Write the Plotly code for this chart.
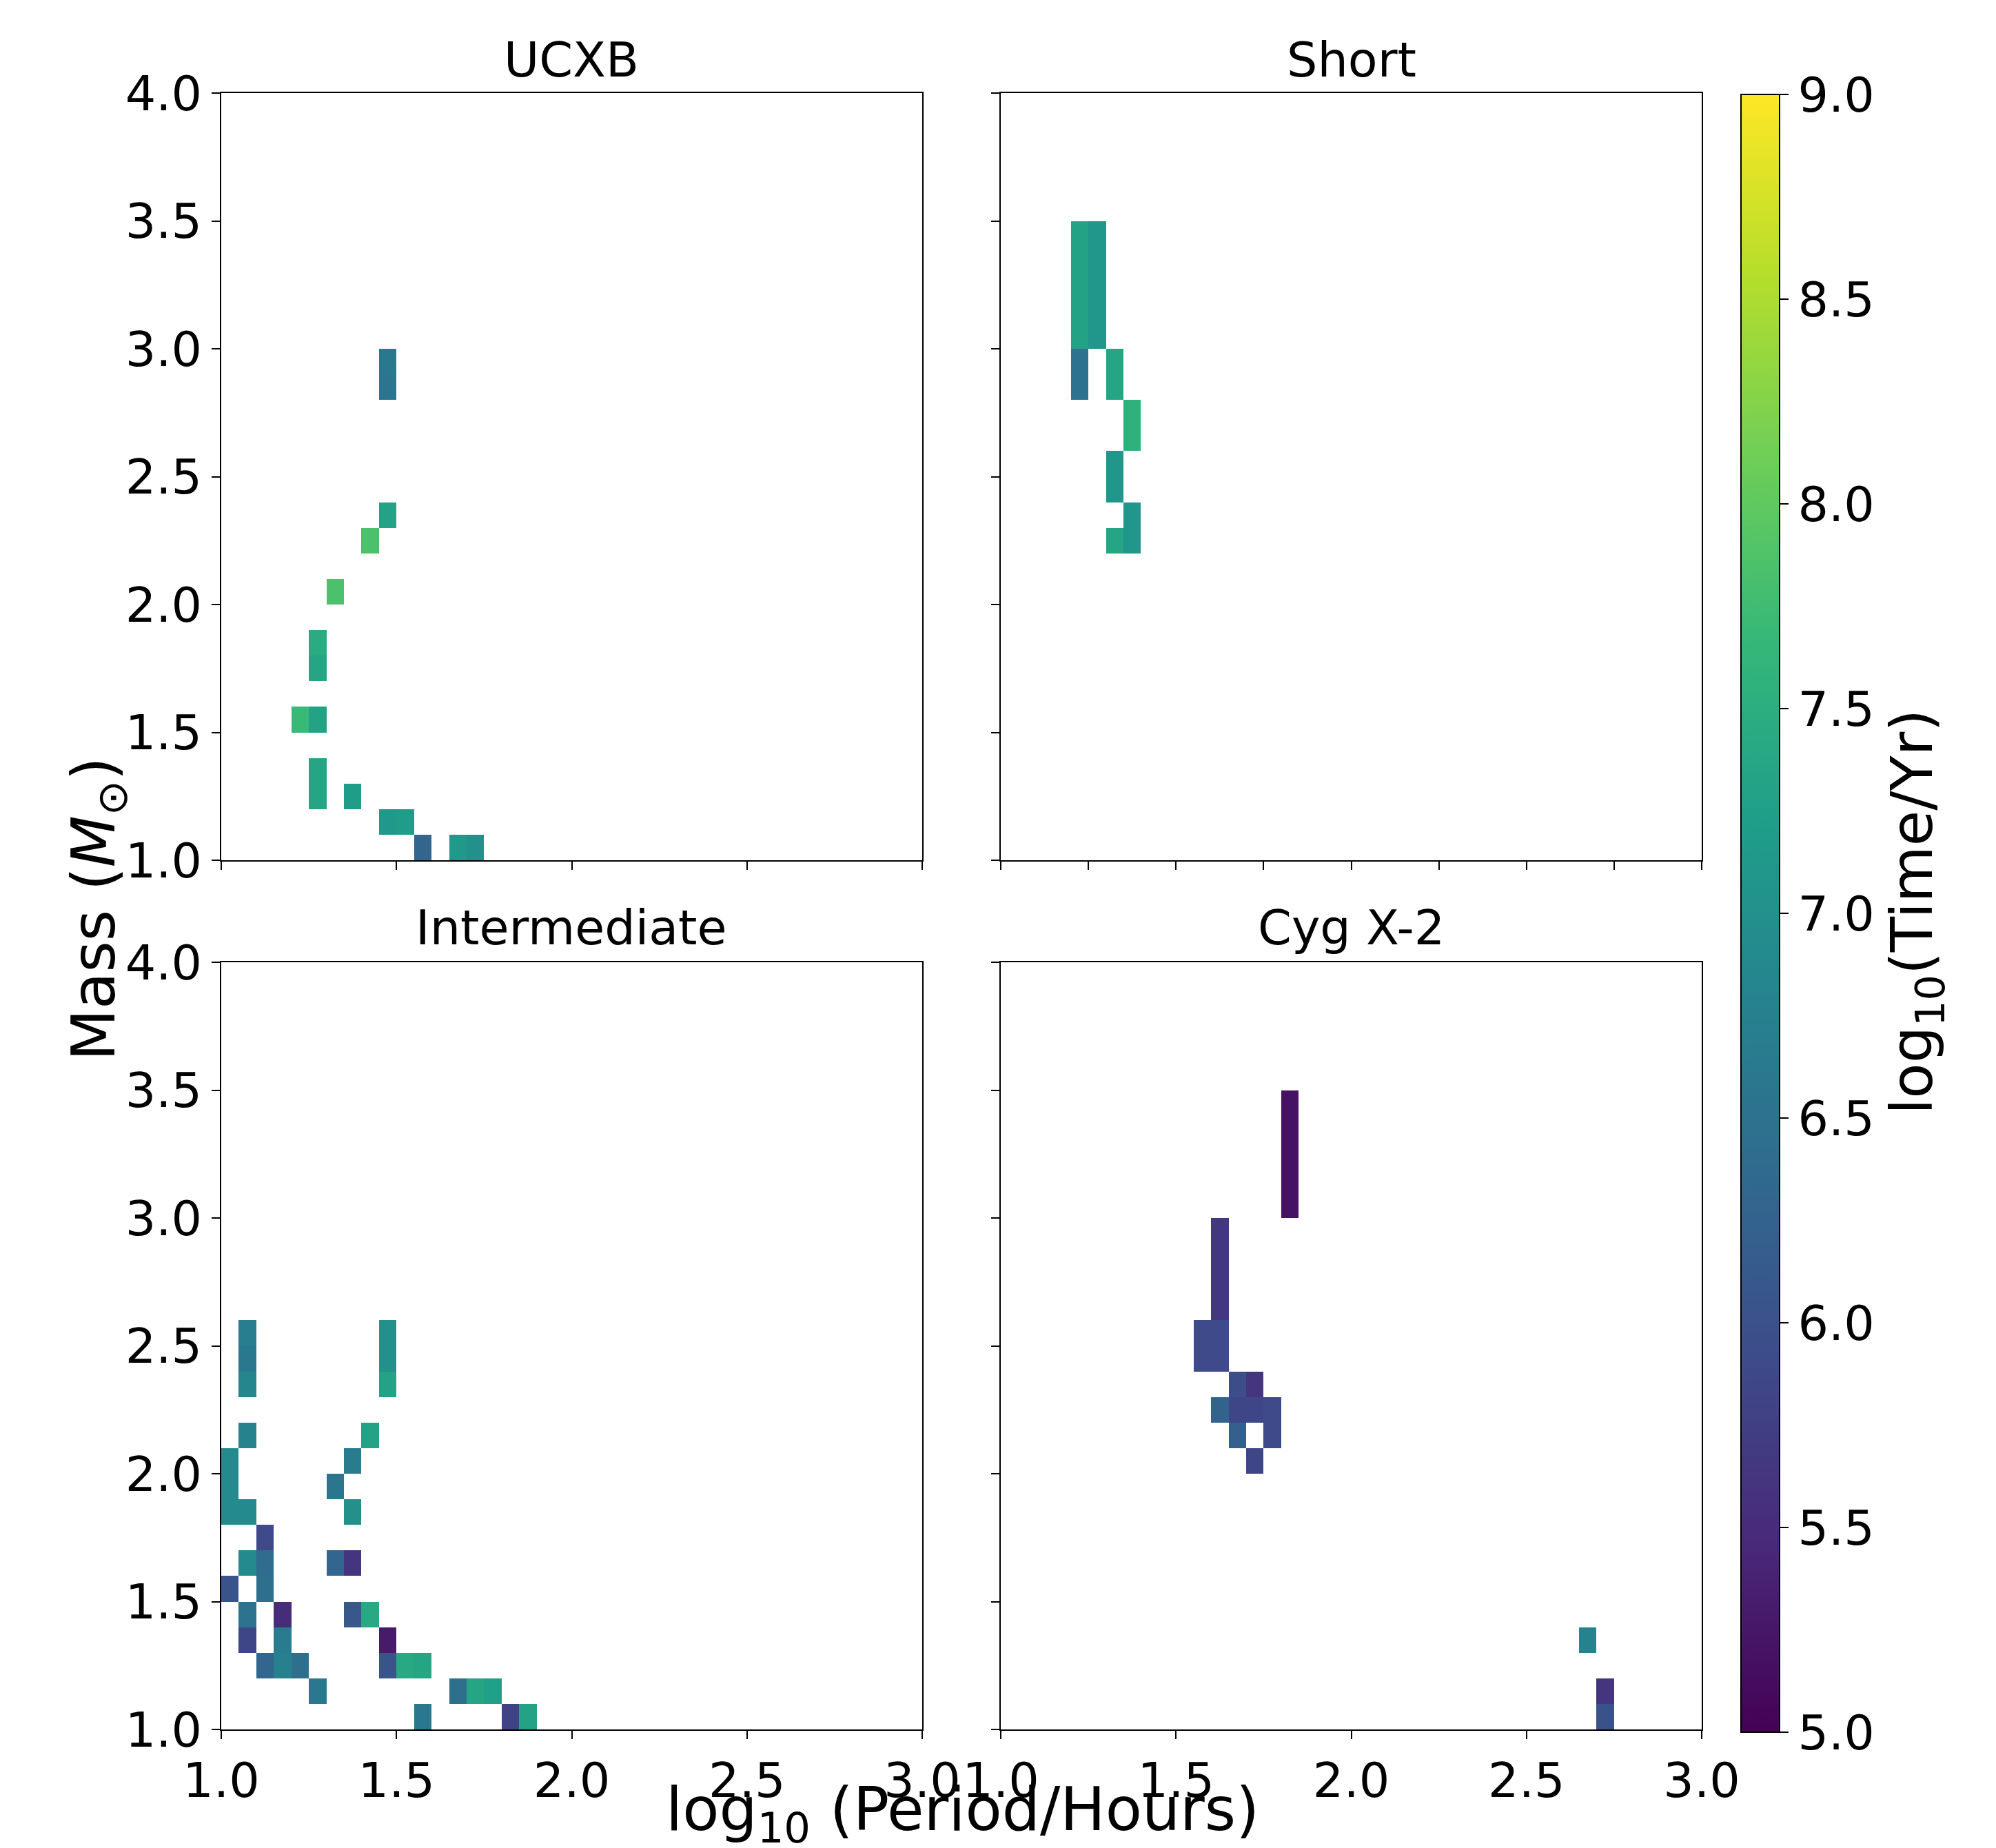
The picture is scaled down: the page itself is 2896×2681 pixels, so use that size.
import numpy as np
import plotly.graph_objects as go

# ---------------- data (bin centres: log10 period [h], mass [Msun], log10 time [yr]) -------------
panel_titles = ["UCXB", "Short", "Intermediate", "Cyg X-2"]

ucxb_period = [1.475, 1.475, 1.475, 1.425, 1.325, 1.275, 1.275, 1.225, 1.275, 1.275, 1.275, 1.375,
               1.475, 1.525, 1.575, 1.675, 1.725]
ucxb_mass = [2.95, 2.85, 2.35, 2.25, 2.05, 1.85, 1.75, 1.55, 1.55, 1.35, 1.25, 1.25,
             1.15, 1.15, 1.05, 1.05, 1.05]
ucxb_logt = [6.6, 6.55, 7.3, 7.85, 7.85, 7.45, 7.35, 7.7, 7.3, 7.35, 7.35, 7.2,
             7.15, 7.2, 6.3, 7.15, 7.0]

short_period = [1.225, 1.225, 1.225, 1.225, 1.225, 1.275, 1.275, 1.275, 1.275, 1.275,
                1.225, 1.225, 1.325, 1.325, 1.375, 1.375, 1.325, 1.325, 1.375, 1.375, 1.325]
short_mass = [3.45, 3.35, 3.25, 3.15, 3.05, 3.45, 3.35, 3.25, 3.15, 3.05,
              2.95, 2.85, 2.95, 2.85, 2.75, 2.65, 2.55, 2.45, 2.35, 2.25, 2.25]
short_logt = [7.3, 7.3, 7.3, 7.3, 7.3, 7.1, 7.1, 7.1, 7.1, 7.1,
              6.5, 6.5, 7.35, 7.35, 7.55, 7.55, 7.1, 7.1, 7.1, 7.1, 7.35]

inter_period = [1.075, 1.075, 1.075, 1.475, 1.475, 1.475, 1.075, 1.425, 1.025, 1.025, 1.025, 1.075,
                1.375, 1.325, 1.375, 1.125, 1.075, 1.125, 1.125, 1.325, 1.375, 1.025, 1.075,
                1.175, 1.375, 1.425, 1.075, 1.175, 1.475, 1.125, 1.175, 1.225, 1.475, 1.525,
                1.575, 1.275, 1.675, 1.725, 1.775, 1.575, 1.825, 1.875]
inter_mass = [2.55, 2.45, 2.35, 2.55, 2.45, 2.35, 2.15, 2.15, 2.05, 1.95, 1.85, 1.85,
              2.05, 1.95, 1.85, 1.75, 1.65, 1.65, 1.55, 1.65, 1.65, 1.55, 1.45,
              1.45, 1.45, 1.45, 1.35, 1.35, 1.35, 1.25, 1.25, 1.25, 1.25, 1.25,
              1.25, 1.15, 1.15, 1.15, 1.15, 1.05, 1.05, 1.05]
inter_logt = [6.7, 6.6, 6.85, 7.0, 7.0, 7.3, 6.8, 7.3, 6.9, 6.9, 6.9, 6.9,
              6.65, 6.55, 7.0, 5.9, 6.9, 6.4, 6.45, 6.3, 5.6, 6.05, 6.5,
              5.5, 6.1, 7.4, 5.85, 6.65, 5.3, 6.3, 6.75, 6.45, 6.05, 7.4,
              7.35, 6.6, 6.45, 7.35, 7.25, 6.6, 5.8, 7.3]

cyg_period = [1.825, 1.825, 1.825, 1.825, 1.825, 1.625, 1.625, 1.625, 1.625,
              1.575, 1.575, 1.625, 1.625, 1.675, 1.725, 1.625, 1.675, 1.725,
              1.775, 1.775, 1.675, 1.725, 2.675, 2.725, 2.725]
cyg_mass = [3.45, 3.35, 3.25, 3.15, 3.05, 2.95, 2.85, 2.75, 2.65,
            2.55, 2.45, 2.55, 2.45, 2.35, 2.35, 2.25, 2.25, 2.25,
            2.25, 2.15, 2.15, 2.05, 1.35, 1.15, 1.05]
cyg_logt = [5.2, 5.2, 5.2, 5.2, 5.2, 5.65, 5.65, 5.65, 5.65,
            5.9, 5.9, 5.9, 5.9, 5.95, 5.6, 6.25, 5.85, 5.85,
            5.9, 5.9, 6.2, 5.85, 6.8, 5.6, 6.0]

period_edges = np.round(np.arange(1.0, 3.0001, 0.05), 3)
mass_edges = np.round(np.arange(1.0, 4.0001, 0.1), 3)

x_tick_vals = [1.0, 1.5, 2.0, 2.5, 3.0]
x_tick_vals_fine = [1.0, 1.25, 1.5, 1.75, 2.0, 2.25, 2.5, 2.75, 3.0]
y_tick_vals = [1.0, 1.5, 2.0, 2.5, 3.0, 3.5, 4.0]
cbar_tick_vals = [5.0, 5.5, 6.0, 6.5, 7.0, 7.5, 8.0, 8.5, 9.0]


def grid(period, mass, logt):
    z = np.full((len(mass_edges) - 1, len(period_edges) - 1), np.nan)
    ix = np.digitize(period, period_edges) - 1
    iy = np.digitize(mass, mass_edges) - 1
    for a, b, v in zip(ix, iy, logt):
        z[b, a] = v
    return z


panels = [
    grid(ucxb_period, ucxb_mass, ucxb_logt),
    grid(short_period, short_mass, short_logt),
    grid(inter_period, inter_mass, inter_logt),
    grid(cyg_period, cyg_mass, cyg_logt),
]

# ---------------- layout geometry ----------------
W, H = 2896, 2681
FONT = "DejaVu Sans"
TICK = 70
col_dom = [[313 / W, 1330 / W], [1444 / W, 2461 / W]]
row_dom = [[1 - 1240 / H, 1 - 127 / H], [1 - 2501 / H, 1 - 1388 / H]]

fig = go.Figure()
for k, z in enumerate(panels):
    sfx = "" if k == 0 else str(k + 1)
    fig.add_trace(go.Heatmap(
        z=z, x=period_edges, y=mass_edges,
        coloraxis="coloraxis", xaxis="x" + sfx, yaxis="y" + sfx,
        hoverongaps=False,
    ))

axis_common = dict(
    showline=True, mirror=True, linecolor="black", linewidth=2,
    ticks="outside", ticklen=12, tickwidth=2, tickcolor="black",
    showgrid=False, zeroline=False,
    tickfont=dict(family=FONT, size=TICK, color="black"),
    tickformat=".1f",
)

layout = dict(
    width=W, height=H,
    margin=dict(l=0, r=0, t=0, b=0, autoexpand=False),
    paper_bgcolor="white", plot_bgcolor="white",
    showlegend=False,
    coloraxis=dict(
        colorscale="Viridis", cmin=5, cmax=9,
        colorbar=dict(
            x=2518 / W, xanchor="left", xpad=0,
            y=1 - 1317 / H, yanchor="middle", ypad=0,
            len=2376 / H, lenmode="fraction",
            thickness=56, thicknessmode="pixels",
            outlinewidth=2, outlinecolor="black",
            ticks="outside", ticklen=12, tickwidth=2, tickcolor="black",
            tickvals=cbar_tick_vals, tickformat=".1f",
            tickfont=dict(family=FONT, size=TICK, color="black"),
        ),
    ),
)

for k in range(4):
    r, c = divmod(k, 2)
    sfx = "" if k == 0 else str(k + 1)
    xa = dict(axis_common)
    xa.update(domain=col_dom[c], range=[1.0, 3.0], anchor="y" + sfx,
              tickvals=(x_tick_vals_fine if k == 1 else x_tick_vals),
              showticklabels=(r == 1))
    ya = dict(axis_common)
    ya.update(domain=row_dom[r], range=[1.0, 4.0], anchor="x" + sfx,
              tickvals=y_tick_vals, showticklabels=(c == 0))
    layout["xaxis" + sfx] = xa
    layout["yaxis" + sfx] = ya

annotations = []
title_y = [1 - 79 / H, 1 - 1338 / H]
for k, t in enumerate(panel_titles):
    r, c = divmod(k, 2)
    annotations.append(dict(
        text=t, xref="paper", yref="paper",
        x=(col_dom[c][0] + col_dom[c][1]) / 2, y=title_y[r],
        xanchor="center", yanchor="middle", showarrow=False,
        font=dict(family=FONT, size=70, color="black"),
    ))

annotations.append(dict(
    text="log<sub>10</sub> (Period/Hours)", xref="paper", yref="paper",
    x=1388 / W, y=1 - 2622 / H, xanchor="center", yanchor="middle", showarrow=False,
    font=dict(family=FONT, size=87, color="black"),
))
annotations.append(dict(
    text="Mass (<i>M</i><sub>⊙</sub>)", xref="paper", yref="paper",
    x=133 / W, y=1 - 1311 / H, xanchor="center", yanchor="middle", showarrow=False,
    textangle=-90, font=dict(family=FONT, size=87, color="black"),
))
annotations.append(dict(
    text="log<sub>10</sub>(Time/Yr)", xref="paper", yref="paper",
    x=2772 / W, y=1 - 1315 / H, xanchor="center", yanchor="middle", showarrow=False,
    textangle=-90, font=dict(family=FONT, size=84, color="black"),
))
layout["annotations"] = annotations

fig.update_layout(**layout)
fig.write_html("out.html")
